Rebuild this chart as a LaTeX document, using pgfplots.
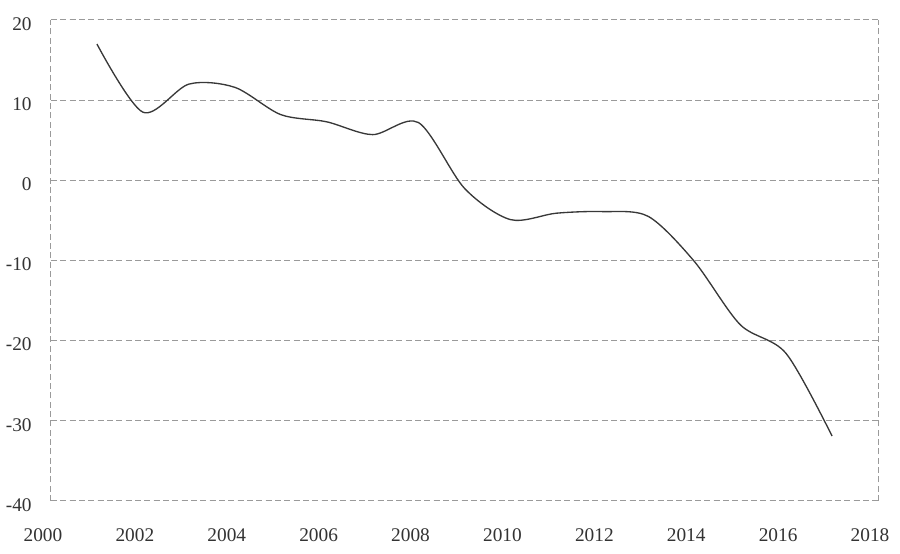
\documentclass[border=0pt]{standalone}
\usepackage{pgfplots}
\pgfplotsset{compat=1.18}
\usepackage{fontspec}
\setmainfont{Liberation Serif}
\definecolor{txt}{HTML}{333333}
\definecolor{gridc}{HTML}{9A9A9A}
\definecolor{linec}{HTML}{383838}
\begin{document}
\begin{tikzpicture}
\begin{axis}[
  scale only axis, width=620.25pt, height=360.75pt,
  xmin=2000, xmax=2018, ymin=-40, ymax=20,
  xtick={2000,2002,...,2018}, ytick={-40,-30,...,20},
  separate axis lines,
  every outer x axis line/.append style={gridc, dash pattern=on 4.5pt off 2.5pt, line width=0.75pt},
  every outer y axis line/.append style={gridc, dash pattern=on 4.5pt off 2.5pt, line width=0.75pt},
  ymajorgrids, grid style={gridc, dash pattern=on 4.5pt off 2.5pt, line width=0.75pt},
  major tick length=0pt,
  tick label style={font=\fontsize{14.5}{16}\selectfont, text=txt},
  /pgf/number format/assume math mode=true,
  /pgf/number format/1000 sep={},
  xticklabel style={xshift=-6pt, yshift=-17pt},
  yticklabel style={xshift=-11pt, yshift=-3pt},
  clip=false,
]
\addplot[linec, line width=1pt, smooth, tension=0.5] coordinates {
(2001,17.0) (2002,8.5) (2003,12.0) (2004,11.6) (2005,8.2) (2006,7.3)
(2007,5.7) (2008,7.2) (2009,-1.0) (2010,-4.9) (2011,-4.1) (2012,-3.9)
(2013,-4.5) (2014,-10.1) (2015,-18.0) (2016,-21.6) (2017,-31.9)
};
\end{axis}
\path ([shift={(-38.25pt,-39.75pt)}]current axis.south west) rectangle ([shift={(16.5pt,15pt)}]current axis.north east);
\end{tikzpicture}
\end{document}
